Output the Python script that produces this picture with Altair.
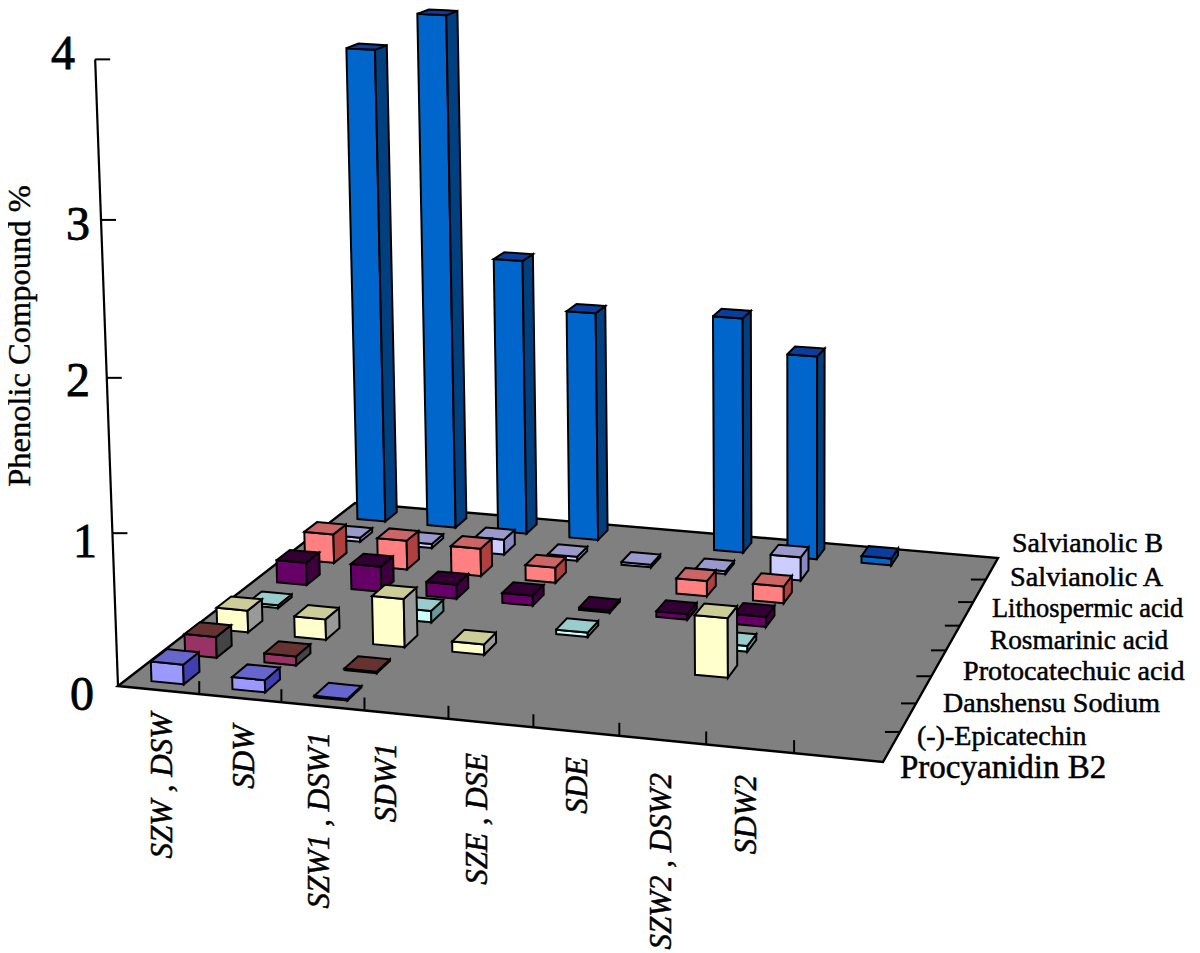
import numpy as np
import pandas as pd
import altair as alt

# ---------- data ----------
CATEGORIES = ["SZW , DSW", "SDW", "SZW1 , DSW1", "SDW1", "SZE , DSE", "SDE", "SZW2 , DSW2", "SDW2"]
SERIES = ["Procyanidin B2", "(-)-Epicatechin", "Danshensu Sodium", "Protocatechuic acid",
          "Rosmarinic acid", "Lithospermic acid", "Salvianolic A", "Salvianolic B"]
PROCYANIDIN = [0.13, 0.08, 0.01, 0, 0, 0, 0, 0]
EPICATECHIN = [0.14, 0.06, 0.01, 0, 0, 0, 0, 0]
DANSHENSU = [0.15, 0.14, 0.33, 0.07, 0, 0, 0.40, 0]
PROTOCATECHUIC = [0.02, 0, 0.08, 0, 0.03, 0, 0.04, 0]
ROSMARINIC = [0.16, 0.18, 0.10, 0.07, 0.015, 0.04, 0.07, 0]
LITHOSPERMIC = [0.21, 0.21, 0.20, 0.11, 0, 0.11, 0.12, 0]
SALV_A = [0.03, 0.03, 0.11, 0.03, 0.02, 0.02, 0.17, 0]
SALV_B = [3.54, 3.82, 2.05, 1.7, 0, 1.74, 1.5, 0.05]
ALL_VALUES = [PROCYANIDIN, EPICATECHIN, DANSHENSU, PROTOCATECHUIC, ROSMARINIC, LITHOSPERMIC, SALV_A, SALV_B]
Y_TICKS = [0, 1, 2, 3, 4]

# ---------- styles ----------
FRONT = ["#9999ff", "#993366", "#ffffcc", "#ccffff", "#660066", "#ff8080", "#ccccff", "#0066cc"]
TOP = ["#6666cc", "#663333", "#cccc99", "#99cccc", "#330033", "#cc6666", "#9999cc", "#0a3d9c"]
SIDE = ["#3f3fb0", "#444444", "#999999", "#669999", "#3d003d", "#b04040", "#8888c0", "#003f80"]
FLOOR = "#808080"
FONT = "Liberation Serif"

# ---------- 3D projection (floor homography + vertical vanishing point) ----------
NU, NV = 9, 8
src = [(0, 0), (NU, 0), (NU, NV), (0, NV)]
dst = [(118, 686), (883, 762), (998, 558), (355, 503)]
A, b = [], []
for (u, v), (x, y) in zip(src, dst):
    A.append([u, v, 1, 0, 0, 0, -u * x, -v * x]); b.append(x)
    A.append([0, 0, 0, u, v, 1, -u * y, -v * y]); b.append(y)
h = np.linalg.solve(np.array(A, float), np.array(b, float))
H = np.append(h, 1).reshape(3, 3)
L, VX, VY = 0.0081, 800.0, 19400.0


def proj(u, v, w=0.0):
    n = H @ np.array([u, v, 1.0])
    d = n[2] - L * w
    return (n[0] - L * VX * w) / d, (n[1] - L * VY * w) / d


def area_rows(pts, pid, fill):
    """Express a convex polygon as x / upper y / lower y rows for an area mark."""
    xs = sorted({round(p[0], 3) for p in pts})
    rows = []
    m = len(pts)
    for x in xs:
        ys = []
        for i in range(m):
            (x0, y0), (x1, y1) = pts[i], pts[(i + 1) % m]
            lo, hi = min(x0, x1) - 1e-3, max(x0, x1) + 1e-3
            if lo <= x <= hi:
                if abs(x1 - x0) < 1e-6:
                    ys += [y0, y1]
                else:
                    ys.append(y0 + (y1 - y0) * (x - x0) / (x1 - x0))
        rows.append(dict(px=x, py=min(ys), py2=max(ys), pid=pid, fill=fill))
    return rows


BW, BD = 0.40, 0.47
rows = []
n = 0
for r in range(NV - 1, -1, -1):
    for c in range(len(CATEGORIES)):
        val = ALL_VALUES[r][c]
        if val <= 0:
            continue
        u0, u1 = c + 0.5 - BW / 2, c + 0.5 + BW / 2
        v0, v1 = r + 0.5 - BD / 2, r + 0.5 + BD / 2
        faces = [
            ([proj(u0, v0, 0), proj(u1, v0, 0), proj(u1, v0, val), proj(u0, v0, val)], FRONT[r]),
            ([proj(u1, v0, 0), proj(u1, v1, 0), proj(u1, v1, val), proj(u1, v0, val)], SIDE[r]),
            ([proj(u0, v0, val), proj(u1, v0, val), proj(u1, v1, val), proj(u0, v1, val)], TOP[r]),
        ]
        for pts, col in faces:
            rows += area_rows(pts, f"p{n:04d}", col)
            n += 1
bars_df = pd.DataFrame(rows)
floor_df = pd.DataFrame(area_rows([proj(0, 0), proj(NU, 0), proj(NU, NV), proj(0, NV)], "floor", FLOOR))

segs = []
for i in range(1, NU):
    x0, y0 = proj(i, 0)
    segs.append(dict(x=x0, y=y0, x2=x0, y2=y0 - 13, sw=2))
for j in range(1, NV):
    x0, y0 = proj(NU, j)
    segs.append(dict(x=x0, y=y0, x2=x0 - 15, y2=y0, sw=2))
segs_df = pd.DataFrame(segs)

axis_segs = []
for i in range(len(Y_TICKS) - 1):
    p0, p1 = proj(0, 0, Y_TICKS[i]), proj(0, 0, Y_TICKS[i + 1])
    axis_segs.append(dict(x=p0[0], y=p0[1], x2=p1[0], y2=p1[1], sw=2.2))
for t in Y_TICKS[1:]:
    p = proj(0, 0, t)
    axis_segs.append(dict(x=p[0], y=p[1], x2=p[0] + 15, y2=p[1], sw=2))
axis_df = pd.DataFrame(axis_segs)

y_lab_df = pd.DataFrame(dict(
    t=[str(t) for t in Y_TICKS], x=[82, 85, 78, 78, 63], y=[710, 557, 396, 240, 69]))
x_lab_df = pd.DataFrame(dict(
    t=CATEGORIES, x=[163, 245, 320, 387, 478, 578, 662, 747], y=[713, 725, 732, 743, 753, 757, 773, 775]))
s_lab_df = pd.DataFrame(dict(
    t=SERIES,
    x=[900, 917, 943, 963, 990, 992, 1010, 1012],
    y=[768, 737, 704, 672, 641, 609, 578, 544],
    fs=[33, 28, 28, 28.2, 27.3, 26.4, 28.3, 27.9]))
title_df = pd.DataFrame(dict(t=["Phenolic Compound %"], x=[20], y=[336]))

DX = [8, 1192]
DY = [950, 8]
X = alt.X("x:Q", scale=alt.Scale(domain=DX), axis=None)
Y = alt.Y("y:Q", scale=alt.Scale(domain=DY), axis=None)
AX = alt.X("px:Q", scale=alt.Scale(domain=DX), axis=None)
AY = alt.Y("py:Q", scale=alt.Scale(domain=DY), axis=None)


def polys(df, sw):
    return alt.Chart(df).mark_area(stroke="black", strokeWidth=sw, opacity=1, strokeJoin="miter").encode(
        x=AX, y=AY, y2="py2:Q",
        detail="pid:N",
        fill=alt.Fill("fill:N", scale=None),
    )


def rules(df):
    return alt.Chart(df).mark_rule(color="black").encode(
        x=X, y=Y, x2="x2:Q", y2="y2:Q", strokeWidth=alt.StrokeWidth("sw:Q", scale=None))


TXT = dict(font=FONT, color="black", stroke="black")
floor_layer = polys(floor_df, 2.4)
tick_layer = rules(segs_df)
bar_layer = polys(bars_df, 2)
axis_layer = rules(axis_df)
y_labels = alt.Chart(y_lab_df).mark_text(fontSize=48, strokeWidth=0.8, align="center", baseline="alphabetic", **TXT).encode(x=X, y=Y, text="t:N")
x_labels = alt.Chart(x_lab_df).mark_text(fontSize=31, strokeWidth=0.5, fontStyle="italic", angle=270, align="right", baseline="middle", **TXT).encode(x=X, y=Y, text="t:N")
s_labels = alt.Chart(s_lab_df).mark_text(strokeWidth=0.5, align="left", baseline="middle", **TXT).encode(
    x=X, y=Y, text="t:N", size=alt.Size("fs:Q", scale=None))
title = alt.Chart(title_df).mark_text(fontSize=32.5, strokeWidth=0.4, angle=270, align="center", baseline="middle", **TXT).encode(x=X, y=Y, text="t:N")

chart = alt.layer(floor_layer, tick_layer, bar_layer, axis_layer, y_labels, x_labels, s_labels, title).properties(
    width=1184, height=942, padding=0, autosize=alt.AutoSizeParams(type="none"), background="white"
).configure_view(stroke=None)

chart.save("out.html", embed_options={"renderer": "svg", "actions": False})
